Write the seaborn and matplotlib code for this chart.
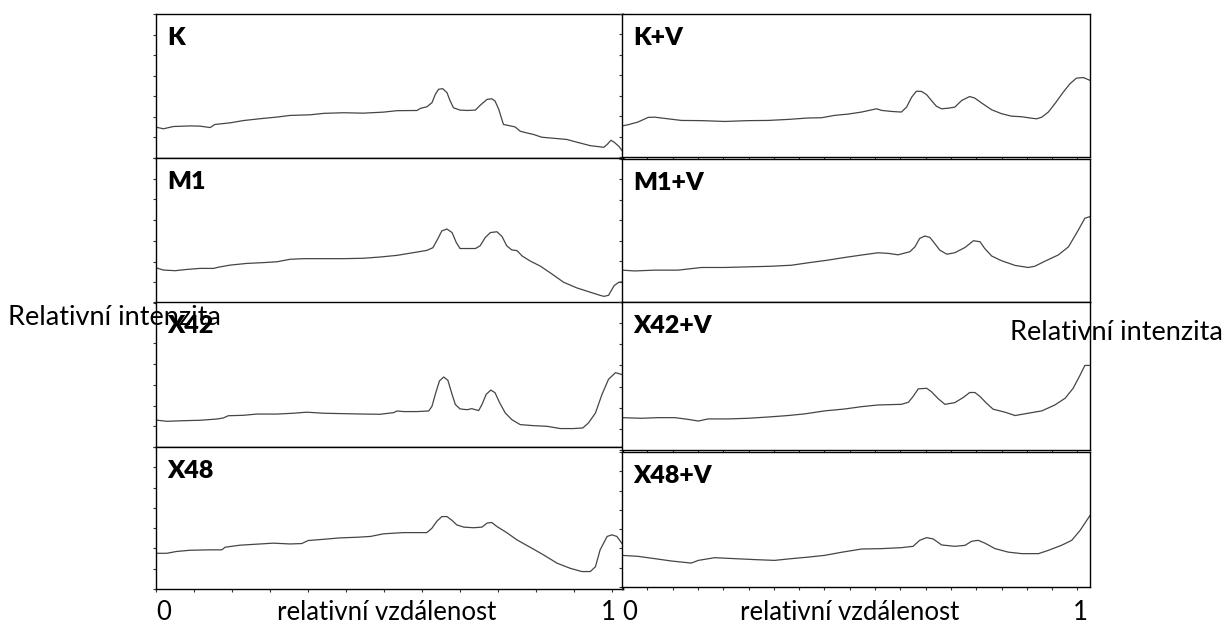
import numpy as np
import pandas as pd
import matplotlib
matplotlib.use("Agg")
import matplotlib.pyplot as plt
import seaborn as sns

# ---- densitometric profiles: relative distance (0..1) vs. relative intensity ----
k_x = [0, .016, .037, .073, .094, .116, .126, .159, .187, .223, .259, .287, .330, .359, .401,
       .444, .487, .516, .559, .566, .580, .591, .598, .605, .614, .623, .630, .637, .651, .666,
       .684, .694, .709, .719, .726, .734, .744, .755, .769, .780, .794, .809, .826, .851, .880,
       .901, .930, .959, .967, .974, .981, .991, .999]
k_y = [1.50, 1.42, 1.53, 1.56, 1.55, 1.48, 1.63, 1.71, 1.82, 1.91, 1.99, 2.07, 2.10, 2.17, 2.20,
       2.18, 2.23, 2.30, 2.31, 2.41, 2.49, 2.69, 3.09, 3.34, 3.37, 3.18, 2.77, 2.44, 2.33, 2.31,
       2.33, 2.56, 2.85, 2.88, 2.77, 2.36, 1.63, 1.58, 1.51, 1.30, 1.22, 1.14, 1.01, 0.96, 0.90,
       0.77, 0.60, 0.52, 0.68, 0.86, 0.77, 0.57, 0.33]

m1_x = [0, .016, .041, .066, .094, .123, .134, .159, .194, .230, .259, .287, .316, .359, .401,
        .444, .480, .516, .551, .580, .593, .603, .612, .623, .634, .643, .651, .666, .684, .694,
        .705, .716, .730, .741, .751, .762, .773, .784, .801, .823, .844, .873, .901, .930, .948,
        .959, .969, .981, .991, 1.0]
m1_y = [1.70, 1.59, 1.56, 1.62, 1.67, 1.67, 1.73, 1.83, 1.91, 1.95, 1.99, 2.11, 2.14, 2.14, 2.14,
        2.16, 2.22, 2.30, 2.43, 2.54, 2.67, 3.08, 3.48, 3.57, 3.40, 2.92, 2.63, 2.63, 2.63, 2.76,
        3.16, 3.40, 3.44, 3.21, 2.76, 2.56, 2.53, 2.27, 2.03, 1.78, 1.46, 1.00, 0.73, 0.52, 0.39,
        0.32, 0.37, 0.84, 1.00, 1.02]

x42_x = [0, .023, .059, .094, .130, .144, .155, .187, .216, .259, .294, .323, .359, .401, .444,
         .480, .509, .516, .530, .559, .584, .591, .598, .607, .616, .625, .634, .641, .651, .666,
         .676, .691, .698, .707, .717, .726, .736, .748, .762, .780, .809, .837, .866, .894, .914,
         .926, .941, .955, .969, .984, 1.0]
x42_y = [1.30, 1.24, 1.27, 1.29, 1.35, 1.40, 1.51, 1.53, 1.59, 1.59, 1.63, 1.68, 1.63, 1.61, 1.59,
         1.58, 1.66, 1.74, 1.71, 1.71, 1.74, 1.97, 2.54, 3.19, 3.38, 3.22, 2.54, 2.05, 1.84, 1.80,
         1.85, 1.76, 2.05, 2.54, 2.75, 2.62, 2.13, 1.64, 1.32, 1.08, 1.03, 1.00, 0.89, 0.89, 0.92,
         1.16, 1.64, 2.54, 3.27, 3.59, 3.48]

x48_x = [0, .023, .044, .073, .116, .141, .148, .180, .216, .251, .287, .312, .326, .359, .394,
         .430, .459, .487, .530, .580, .591, .601, .612, .623, .634, .644, .659, .680, .698, .709,
         .719, .730, .751, .773, .801, .830, .859, .887, .912, .930, .941, .951, .966, .976, .987,
         1.0]
x48_y = [1.76, 1.76, 1.85, 1.91, 1.93, 1.93, 2.06, 2.16, 2.21, 2.26, 2.22, 2.24, 2.39, 2.45, 2.52,
         2.55, 2.59, 2.72, 2.78, 2.78, 3.00, 3.33, 3.57, 3.57, 3.38, 3.16, 3.05, 3.02, 3.05, 3.25,
         3.28, 3.08, 2.78, 2.42, 2.06, 1.68, 1.27, 1.02, 0.86, 0.86, 1.10, 1.93, 2.59, 2.67, 2.59,
         2.17]

kv_x = [0, .013, .034, .056, .070, .098, .127, .170, .220, .269, .312, .355, .398, .426, .455,
        .483, .512, .544, .555, .576, .597, .608, .619, .629, .640, .651, .661, .672, .683, .697,
        .711, .726, .743, .754, .768, .790, .811, .832, .854, .875, .886, .897, .911, .925, .943,
        .957, .971, .986, 1.0]
kv_y = [1.52, 1.58, 1.71, 1.94, 1.95, 1.87, 1.79, 1.78, 1.74, 1.78, 1.79, 1.84, 1.91, 1.92, 2.04,
        2.10, 2.20, 2.36, 2.28, 2.23, 2.20, 2.44, 2.93, 3.22, 3.21, 3.05, 2.77, 2.48, 2.36, 2.39,
        2.44, 2.77, 2.96, 2.88, 2.65, 2.31, 2.12, 2.00, 1.97, 1.90, 1.87, 1.95, 2.20, 2.61, 3.18,
        3.58, 3.86, 3.89, 3.75]

m1v_x = [0, .027, .070, .120, .170, .220, .269, .319, .362, .398, .440, .476, .512, .547, .569,
         .590, .615, .626, .636, .647, .658, .669, .679, .694, .711, .733, .751, .765, .775, .790,
         .811, .840, .868, .882, .904, .932, .954, .975, .989, 1.0]
m1v_y = [1.56, 1.52, 1.56, 1.56, 1.69, 1.69, 1.72, 1.75, 1.80, 1.92, 2.05, 2.18, 2.30, 2.41, 2.38,
         2.31, 2.46, 2.70, 3.11, 3.23, 3.16, 2.84, 2.54, 2.34, 2.41, 2.67, 3.00, 2.95, 2.62, 2.25,
         2.02, 1.79, 1.69, 1.75, 2.00, 2.30, 2.70, 3.52, 4.10, 4.18]

x42v_x = [0, .041, .077, .113, .141, .163, .184, .227, .269, .312, .355, .391, .433, .476, .512,
          .547, .597, .612, .622, .633, .651, .661, .676, .690, .711, .729, .743, .754, .765, .779,
          .793, .818, .840, .868, .897, .925, .947, .964, .979, .989, 1.0]
x42v_y = [1.53, 1.50, 1.53, 1.53, 1.45, 1.37, 1.47, 1.47, 1.50, 1.56, 1.63, 1.71, 1.85, 1.94, 2.05,
          2.13, 2.16, 2.26, 2.53, 2.89, 2.92, 2.76, 2.42, 2.16, 2.24, 2.48, 2.72, 2.72, 2.53, 2.21,
          1.93, 1.79, 1.63, 1.74, 1.85, 2.13, 2.45, 2.92, 3.55, 4.00, 4.00]

x48v_x = [0, .034, .070, .105, .148, .163, .198, .241, .284, .326, .362, .398, .433, .469, .512,
          .555, .597, .622, .636, .651, .665, .683, .711, .733, .747, .761, .775, .797, .825, .854,
          .890, .911, .939, .961, .979, 1.0]
x48v_y = [1.64, 1.59, 1.47, 1.35, 1.24, 1.38, 1.52, 1.47, 1.42, 1.38, 1.47, 1.55, 1.64, 1.80, 1.97,
          1.99, 2.04, 2.11, 2.42, 2.56, 2.49, 2.18, 2.11, 2.16, 2.37, 2.42, 2.28, 1.99, 1.81, 1.73,
          1.73, 1.90, 2.16, 2.42, 2.94, 3.71]

samples = ["K", "M1", "X42", "X48", "K+V", "M1+V", "X42+V", "X48+V"]
profiles = {
    "K": (k_x, k_y), "M1": (m1_x, m1_y), "X42": (x42_x, x42_y), "X48": (x48_x, x48_y),
    "K+V": (kv_x, kv_y), "M1+V": (m1v_x, m1v_y), "X42+V": (x42v_x, x42v_y),
    "X48+V": (x48v_x, x48v_y),
}
frames = []
for name in samples:
    xs, ys = profiles[name]
    frames.append(pd.DataFrame({"vzdalenost": xs, "intenzita": ys, "vzorek": name}))
data = pd.concat(frames, ignore_index=True)

# ---- figure ----
sns.set_style("ticks")
plt.rcParams["font.family"] = ["Lato", "DejaVu Sans"]

W, H = 1224, 634
fig = plt.figure(figsize=(W / 100, H / 100), dpi=100)
fig.patch.set_facecolor("white")

# panel boxes in pixels: (left, top, right, bottom)
boxes = {
    "K": (156, 14, 623, 158), "M1": (156, 158, 623, 303),
    "X42": (156, 302, 623, 447), "X48": (156, 447, 623, 589),
    "K+V": (622, 14, 1090, 157), "M1+V": (622, 159, 1090, 302),
    "X42+V": (622, 302, 1090, 450), "X48+V": (622, 452, 1090, 587),
}
left_step = 38 / 467
right_step = 25.3 / 468

for name in samples:
    l, t, r, b = boxes[name]
    ax = fig.add_axes([l / W, 1 - b / H, (r - l) / W, (b - t) / H])
    sub = data[data["vzorek"] == name]
    sns.lineplot(data=sub, x="vzdalenost", y="intenzita", ax=ax, color="#454545",
                 linewidth=0.9, sort=False, estimator=None)
    ax.set_xlim(0, 1)
    ax.set_ylim(0, 7)
    step = left_step if "+" not in name else right_step
    ax.set_xticks(np.arange(0, 0.999, step))
    ax.set_yticks(np.arange(0, 8, 1))
    ax.tick_params(direction="out", length=2.5, width=0.8, color="#333333",
                   labelleft=False, labelbottom=False)
    ax.set_xlabel("")
    ax.set_ylabel("")
    for sp in ax.spines.values():
        sp.set_visible(True)
        sp.set_color("black")
        sp.set_linewidth(1.0)
    ax.annotate(name, xy=(0, 1), xycoords="axes fraction", xytext=(11, -31),
                textcoords="offset pixels", fontsize=18, fontweight="heavy",
                ha="left", va="baseline", color="black")


def ftext(x, y, s, ha="left", size=18.5):
    fig.text(x / W, 1 - y / H, s, ha=ha, va="baseline", fontsize=size, color="black")


ftext(8, 325, "Relativní intenzita", size=19.5)
ftext(1010, 340, "Relativní intenzita", size=19.5)
for x0, xc, x1 in [(156, 387, 608), (622, 850, 1080)]:
    ftext(x0, 620, "0")
    ftext(xc, 620, "relativní vzdálenost", ha="center")
    ftext(x1, 620, "1", ha="center")

fig.savefig("out.png", dpi=100, facecolor="white")
